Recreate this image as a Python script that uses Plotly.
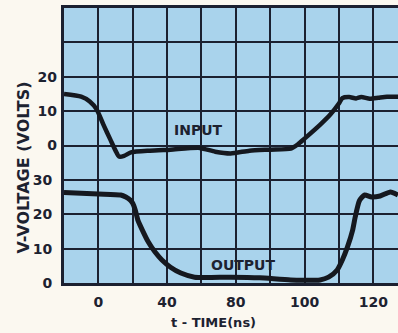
import plotly.graph_objects as go

# Time axis (ns) and measured waveforms (volts)
input_t = [-20, -10, -5, -1, 3, 7, 10, 12, 15, 19, 30, 42, 59, 68, 77, 88, 100,
           112, 116, 120, 129, 135, 140, 142, 146, 150, 153, 158, 163, 168, 174.4]
input_v = [15.0, 14.2, 12.8, 10.5, 6.0, 1.7, -1.5, -3.2, -3.0, -2.0, -1.5, -1.2, -0.7,
           -1.8, -2.3, -1.5, -1.2, -0.9, 0.3, 2.0, 6.0, 9.0, 12.2, 13.8, 14.1, 13.7,
           14.1, 13.6, 13.9, 14.2, 14.2]

output_t = [-20, 0, 13, 16, 18.6, 20, 21.5, 23, 25.6, 29, 33, 37, 42, 48, 56, 77, 94,
            112, 129, 134, 139, 142, 145, 148, 149.5, 152, 155, 159, 164, 170, 174.4]
output_v = [26.3, 25.9, 25.6, 25.0, 24.1, 23.2, 21.2, 18.3, 15.4, 12.0, 9.0, 6.7, 4.6,
            2.9, 1.7, 1.7, 1.5, 0.9, 0.9, 1.7, 3.8, 6.7, 10.5, 15.4, 19.2, 24.0, 25.6,
            25.0, 25.3, 26.5, 25.6]

# Axis ticks as printed on the scale
x_tickvals = [0, 40, 80, 120, 160]
x_ticktext = ["0", "40", "80", "100", "120"]
out_ticks = [0, 10, 20, 30]
in_ticks = [0, 10, 20]

INK = "#1d2230"
GRID = "#1b2030"
FILL = "#a9d3ec"
PAPER = "#fbf8f0"
FONT = "DejaVu Sans"

fig = go.Figure()
fig.add_trace(go.Scatter(x=output_t, y=output_v, mode="lines", yaxis="y",
                         line=dict(color="#15181f", width=5, shape="spline", smoothing=0.6),
                         showlegend=False, hoverinfo="skip"))
fig.add_trace(go.Scatter(x=input_t, y=input_v, mode="lines", yaxis="y2",
                         line=dict(color="#15181f", width=4.5, shape="spline", smoothing=0.6),
                         showlegend=False, hoverinfo="skip"))

fig.add_annotation(x=58, y=4.6, xref="x", yref="y2", text="INPUT", showarrow=False,
                   font=dict(family=FONT, size=14, color=INK, weight="bold"))
fig.add_annotation(x=84, y=5.2, xref="x", yref="y", text="OUTPUT", showarrow=False,
                   font=dict(family=FONT, size=14, color=INK, weight="bold"))

# Axis titles
fig.add_annotation(x=-0.12, y=0.42, xref="paper", yref="paper", text="V-VOLTAGE (VOLTS)",
                   textangle=-90, showarrow=False, xanchor="center", yanchor="middle",
                   font=dict(family=FONT, size=16, color=INK, weight="bold"))
fig.add_annotation(x=0.449, y=-0.145, xref="paper", yref="paper", text="t - TIME(ns)",
                   showarrow=False, xanchor="center", yanchor="middle",
                   font=dict(family=FONT, size=13, color=INK, weight="bold"))

tickfont = dict(family=FONT, size=14, color=INK, weight="bold")

fig.update_layout(
    width=398, height=333,
    margin=dict(l=64, r=0, t=8, b=50),
    paper_bgcolor=PAPER,
    plot_bgcolor=FILL,
    xaxis=dict(
        range=[-20, 174.4], tickmode="array", tickvals=x_tickvals, ticktext=x_ticktext,
        showgrid=True, gridcolor=GRID, gridwidth=2,
        minor=dict(dtick=20, tick0=0, showgrid=True, gridcolor=GRID, gridwidth=2),
        showline=True, linecolor=GRID, linewidth=3, mirror=True,
        ticks="", zeroline=False, tickfont=tickfont, ticklabelstandoff=4,
    ),
    yaxis=dict(
        range=[0, 80], tickmode="array", tickvals=out_ticks,
        showgrid=True, gridcolor=GRID, gridwidth=2,
        minor=dict(dtick=10, tick0=0, showgrid=True, gridcolor=GRID, gridwidth=2),
        showline=True, linecolor=GRID, linewidth=3, mirror=False,
        ticks="", zeroline=False, tickfont=tickfont, ticklabelstandoff=6,
    ),
    yaxis2=dict(
        range=[-40, 40], overlaying="y", side="left", tickmode="array", tickvals=in_ticks,
        showgrid=False, zeroline=False, showline=False, ticks="",
        tickfont=tickfont, ticklabelstandoff=6,
    ),
)

fig.write_html("out.html")
